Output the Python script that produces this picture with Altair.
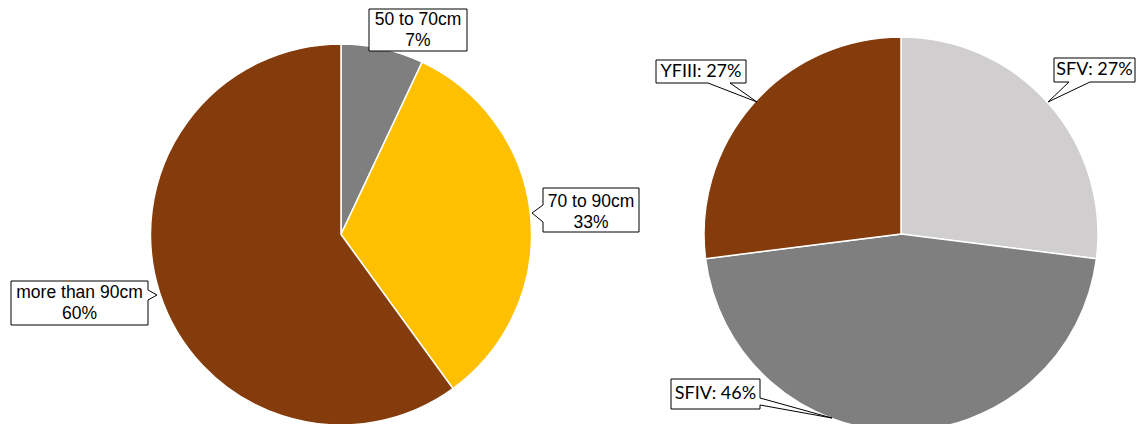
import altair as alt
import pandas as pd

left_labels = ["50 to 70cm", "70 to 90cm", "more than 90cm"]
left_values = [7, 33, 60]
right_labels = ["SFV", "SFIV", "YFIII"]
right_values = [27, 46, 27]

all_cats = left_labels + right_labels
all_colors = ["#7F7F7F", "#FFC000", "#843C0C", "#D0CECE", "#7F7F7F", "#843C0C"]

left_df = pd.DataFrame({"label": left_labels, "value": left_values,
                        "idx": list(range(len(left_labels)))})
right_df = pd.DataFrame({"label": right_labels, "value": right_values,
                         "idx": list(range(len(right_labels)))})
left_df["text"] = left_df["label"] + "\n" + left_df["value"].astype(str) + "%"
right_df["text"] = right_df["label"] + ": " + right_df["value"].astype(str) + "%"

color = alt.Color("label:N", scale=alt.Scale(domain=all_cats, range=all_colors), legend=None)


def pie(df, cx, cy, r):
    return alt.Chart(df).mark_arc(outerRadius=r, stroke="white", strokeWidth=1.5).encode(
        theta=alt.Theta("value:Q", stack=True),
        color=color,
        order=alt.Order("idx:Q"),
        x=alt.value(cx), y=alt.value(cy),
    )


one = pd.DataFrame({"a": [0]})


def box(x1, y1, x2, y2):
    return alt.Chart(one).mark_rect(fill="white", stroke="black", strokeWidth=1).encode(
        x=alt.value(x1), x2=alt.value(x2), y=alt.value(y1), y2=alt.value(y2))


def seg(x1, y1, x2, y2, col="black", w=1):
    return alt.Chart(one).mark_rule(color=col, strokeWidth=w).encode(
        x=alt.value(x1), x2=alt.value(x2), y=alt.value(y1), y2=alt.value(y2))


def tail(gap, tip):
    (ax, ay), (bx, by) = gap
    tx, ty = tip
    return [seg(ax, ay, bx, by, "white", 2), seg(ax, ay, tx, ty), seg(bx, by, tx, ty)]


def label(df, name, cx, cy, font, size, lh):
    return alt.Chart(df).transform_filter(alt.datum.label == name).mark_text(
        font=font, fontSize=size, lineBreak="\n", lineHeight=lh,
        align="center", baseline="middle", color="black").encode(
        text="text:N", x=alt.value(cx), y=alt.value(cy))


LF, LS, LH = "Liberation Sans", 17.5, 21
RF, RS = "Lato", 18

layers = [
    pie(left_df, 333, 226.5, 190.5),
    pie(right_df, 893, 226, 197),
    # left callouts
    box(361, 1, 459, 43),
    label(left_df, "50 to 70cm", 410, 12, LF, LS, LH),
    box(535, 180, 631, 224),
    *tail(((535, 197), (535, 214)), (524, 205)),
    label(left_df, "70 to 90cm", 583, 193.5, LF, LS, LH),
    box(3, 273, 140, 317),
    *tail(((140, 282), (140, 292)), (149, 287)),
    label(left_df, "more than 90cm", 71.5, 285, LF, LS, LH),
    # right callouts
    box(648, 52, 738, 75),
    *tail(((700, 75), (722, 75)), (749, 94)),
    label(right_df, "YFIII", 693, 64, RF, RS, 20),
    box(1046, 50, 1127, 74),
    *tail(((1061, 74), (1082, 74)), (1040, 94)),
    label(right_df, "SFV", 1086.5, 62, RF, RS, 20),
    box(663, 371, 752, 401),
    *tail(((752, 390), (752, 397)), (824, 410)),
    label(right_df, "SFIV", 707.5, 386, RF, RS, 20),
]

chart = alt.layer(*layers).resolve_scale(theta="independent").properties(
    width=1128, height=416, padding=0, autosize="none"
).configure_view(stroke=None)

chart.save("out.html", embed_options={"renderer": "svg", "actions": False})
